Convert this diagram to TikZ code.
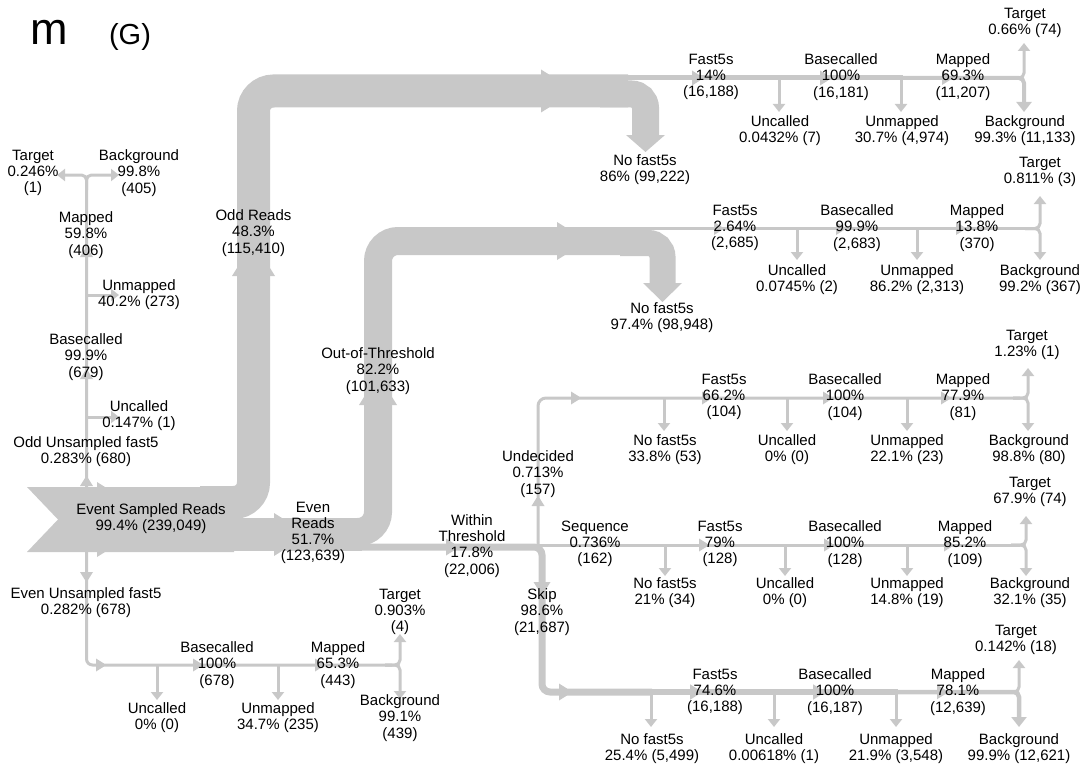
\documentclass[tikz,border=0pt]{standalone}
\usepackage{fontspec}
\setmainfont{Liberation Sans}
\usetikzlibrary{arrows.meta}
\definecolor{flowgray}{RGB}{200,200,200}
% small arrow bump on a flow: x, y, angle, flow width
\newcommand{\flowmark}[4]{\fill[flow,shift={(#1,#2)},rotate=#3] (0,{-#4/2-5}) -- (8,{-#4/2}) -- (8,{#4/2}) -- (0,{#4/2+5}) -- cycle;}

\begin{document}
\begin{tikzpicture}[x=1pt,y=-1pt,
  font=\fontsize{15}{16.2}\selectfont,
  every node/.style={align=center,inner sep=0pt},
  flow/.style={fill=flowgray},
  band/.style={draw=flowgray,line width=#1},
  link/.style={draw=flowgray,line width=3pt},
  endtip/.style={-{Triangle[width=12pt,length=8pt]}},
  bigtip/.style={-{Triangle[width=15pt,length=10pt]}}]
\useasboundingbox (0,0) rectangle (1086,773);

\node[anchor=base,font=\fontsize{45}{45}\selectfont] (panel) at (49,45) {m};
\node[anchor=base,font=\fontsize{29}{29}\selectfont] (graph) at (130,45) {(G)};

% main bands
\fill[flow] (27,487) -- (234,487) -- (234,552) -- (27,552) -- (58,519.5) -- cycle;
\draw[band=33pt,rounded corners=20pt] (200,502.5) -- (253.5,502.5) -- (253.5,91) -- (628,91);
\draw[band=27pt,rounded corners=14pt] (600,94) -- (645.5,94) -- (645.5,136);
\fill[flow] (626,135) -- (665,135) -- (645.5,152) -- cycle;
\draw[band=33pt] (225,534.5) -- (362,534.5);
\draw[band=28pt,rounded corners=20pt] (340,532) -- (378,532) -- (378,241) -- (640,241);
\draw[band=26pt,rounded corners=14pt] (620,243) -- (662.5,243) -- (662.5,284);
\fill[flow] (643,283) -- (682,283) -- (662.5,302) -- cycle;
\draw[band=7pt,rounded corners=8pt] (355,547) -- (542,547) -- (542,692) -- (652,692);

\flowmark{97}{519.5}{0}{65}
\flowmark{253.5}{276}{90}{33}
\flowmark{541}{91}{0}{33}
\flowmark{274}{534.5}{0}{33}
\flowmark{378}{405}{90}{28}
\flowmark{557}{241}{0}{28}
\flowmark{446}{547}{0}{7}
\flowmark{542}{582}{-90}{7}
\flowmark{559}{692}{0}{7}

% odd unsampled
\draw[link,rounded corners=5pt,endtip] (86.5,489) -- (86.5,175) -- (119,175);
\draw[link,rounded corners=5pt,endtip] (86.5,190) -- (86.5,175) -- (57,175);
\draw[link,endtip] (86.5,417) -- (119,417);
\draw[link,endtip] (86.5,295) -- (119,295);
\flowmark{86.5}{486}{90}{3}
\flowmark{86.5}{379}{90}{3}
\flowmark{86.5}{257}{90}{3}

% even unsampled
\draw[link,rounded corners=6pt] (86.5,550) -- (86.5,665) -- (392,665);
\draw[link,rounded corners=5pt,endtip] (385,665) -- (400,665) -- (400,634);
\draw[link,rounded corners=5pt,endtip] (385,665) -- (400,665) -- (400,699);
\draw[link,endtip] (157,665) -- (157,700);
\draw[link,endtip] (278,665) -- (278,700);
\flowmark{86.5}{572}{-90}{3}
\flowmark{96}{665}{0}{3}
\flowmark{193}{665}{0}{3}
\flowmark{315}{665}{0}{3}

% odd reads fast5s
\draw[band=5pt] (620,78) -- (903,78);
\draw[band=4pt,rounded corners=5pt,bigtip] (900,78) -- (1024,78) -- (1024,112);
\draw[link,rounded corners=5pt,endtip] (1008,78) -- (1024,78) -- (1024,43);
\draw[link,endtip] (779,78) -- (779,112);
\draw[link,endtip] (901,78) -- (901,112);
\flowmark{692}{78}{0}{5}
\flowmark{820}{78}{0}{5}
\flowmark{942}{78}{0}{4}

% out-of-threshold fast5s
\draw[link] (630,228.5) -- (1030,228.5);
\draw[link,rounded corners=5pt,endtip] (1025,228.5) -- (1040,228.5) -- (1040,196);
\draw[link,rounded corners=5pt,endtip] (1025,228.5) -- (1040,228.5) -- (1040,260);
\draw[link,endtip] (797,228.5) -- (797,260);
\draw[link,endtip] (917,228.5) -- (917,260);
\flowmark{714}{228.5}{0}{3}
\flowmark{836}{228.5}{0}{3}
\flowmark{956}{228.5}{0}{3}

% undecided
\draw[link,rounded corners=8pt] (538,546) -- (538,398) -- (1020,398);
\draw[link,rounded corners=5pt,endtip] (1013,398) -- (1028,398) -- (1028,368);
\draw[link,rounded corners=5pt,endtip] (1013,398) -- (1028,398) -- (1028,431);
\draw[link,endtip] (664,398) -- (664,431);
\draw[link,endtip] (787,398) -- (787,431);
\draw[link,endtip] (907,398) -- (907,431);
\flowmark{538}{506}{90}{3}
\flowmark{571}{398}{0}{3}
\flowmark{702}{398}{0}{3}
\flowmark{823}{398}{0}{3}
\flowmark{941}{398}{0}{3}

% sequence
\draw[link] (538,545) -- (1020,545);
\draw[link,rounded corners=5pt,endtip] (1011,545) -- (1026,545) -- (1026,516);
\draw[link,rounded corners=5pt,endtip] (1011,545) -- (1026,545) -- (1026,576);
\draw[link,endtip] (665,545) -- (665,576);
\draw[link,endtip] (785,545) -- (785,576);
\draw[link,endtip] (907,545) -- (907,576);
\flowmark{699}{545}{0}{3}
\flowmark{824}{545}{0}{3}
\flowmark{944}{545}{0}{3}

% skip
\draw[band=5.5pt] (650,692) -- (898,692);
\draw[band=4.5pt,rounded corners=5pt,bigtip] (895,692) -- (1019,692) -- (1019,727);
\draw[link,rounded corners=5pt,endtip] (1004,692) -- (1019,692) -- (1019,660);
\draw[link,endtip] (651,692) -- (651,727);
\draw[link,endtip] (774,692) -- (774,727);
\draw[link,endtip] (896,692) -- (896,727);
\flowmark{690}{692}{0}{5.5}
\flowmark{813}{692}{0}{5.5}
\flowmark{937}{692}{0}{4.5}

% labels
\node (oddtgt) at (33,173) {Target\\0.246\%\\(1)};
\node (oddbg) at (139,173) {Background\\99.8\%\\(405)};
\node (oddmap) at (86,235) {Mapped\\59.8\%\\(406)};
\node (oddunm) at (139,295) {Unmapped\\40.2\% (273)};
\node (oddbc) at (86,357) {Basecalled\\99.9\%\\(679)};
\node (oddunc) at (139,416) {Uncalled\\0.147\% (1)};
\node (oddun) at (86,452) {Odd Unsampled fast5\\0.283\% (680)};

\node (evenun) at (86,603) {Even Unsampled fast5\\0.282\% (678)};
\node (evbc) at (217,665) {Basecalled\\100\%\\(678)};
\node (evunc) at (157,718) {Uncalled\\0\% (0)};
\node (evunm) at (278,718) {Unmapped\\34.7\% (235)};
\node (evmap) at (338,665) {Mapped\\65.3\%\\(443)};
\node (evtgt) at (400,612) {Target\\0.903\%\\(4)};
\node (evbg) at (400,718) {Background\\99.1\%\\(439)};

\node (esr) at (151,518.5) {Event Sampled Reads\\99.4\% (239,049)};
\node (evenr) at (313,533) {Even\\Reads\\51.7\%\\(123,639)};
\node (oddr) at (253.5,233) {Odd Reads\\48.3\%\\(115,410)};
\node (oot) at (378,371) {Out-of-Threshold\\82.2\%\\(101,633)};
\node (within) at (472,546) {Within\\Threshold\\17.8\%\\(22,006)};
\node (nof1) at (645,170) {No fast5s\\86\% (99,222)};
\node (nof2) at (662,318) {No fast5s\\97.4\% (98,948)};
\node (undec) at (538,474) {Undecided\\0.713\%\\(157)};
\node (seq) at (595,544) {Sequence\\0.736\%\\(162)};
\node (skip) at (542,612) {Skip\\98.6\%\\(21,687)};

\node (t1f) at (711,77) {Fast5s\\14\%\\(16,188)};
\node (t1unc) at (780,130.5) {Uncalled\\0.0432\% (7)};
\node (t1bc) at (841,77) {Basecalled\\100\%\\(16,181)};
\node (t1unm) at (902,130.5) {Unmapped\\30.7\% (4,974)};
\node (t1map) at (963,77) {Mapped\\69.3\%\\(11,207)};
\node (t1tgt) at (1025,22.5) {Target\\0.66\% (74)};
\node (t1bg) at (1025,130.5) {Background\\99.3\% (11,133)};

\node (t2f) at (735,228) {Fast5s\\2.64\%\\(2,685)};
\node (t2unc) at (797,280) {Uncalled\\0.0745\% (2)};
\node (t2bc) at (857,228) {Basecalled\\99.9\%\\(2,683)};
\node (t2unm) at (917,280) {Unmapped\\86.2\% (2,313)};
\node (t2map) at (977,228) {Mapped\\13.8\%\\(370)};
\node (t2tgt) at (1040,172) {Target\\0.811\% (3)};
\node (t2bg) at (1040,280) {Background\\99.2\% (367)};

\node (unof) at (665,450) {No fast5s\\33.8\% (53)};
\node (uf) at (724,397) {Fast5s\\66.2\%\\(104)};
\node (uunc) at (787,450) {Uncalled\\0\% (0)};
\node (ubc) at (845,397) {Basecalled\\100\%\\(104)};
\node (uunm) at (907,450) {Unmapped\\22.1\% (23)};
\node (umap) at (963,397) {Mapped\\77.9\%\\(81)};
\node (utgt) at (1027,345) {Target\\1.23\% (1)};
\node (ubg) at (1029,450) {Background\\98.8\% (80)};

\node (snof) at (665,593) {No fast5s\\21\% (34)};
\node (sf) at (720,544) {Fast5s\\79\%\\(128)};
\node (sunc) at (785,593) {Uncalled\\0\% (0)};
\node (sbc) at (845,544) {Basecalled\\100\%\\(128)};
\node (sunm) at (907,593) {Unmapped\\14.8\% (19)};
\node (smap) at (965,544) {Mapped\\85.2\%\\(109)};
\node (stgt) at (1030,492) {Target\\67.9\% (74)};
\node (sbg) at (1030,593) {Background\\32.1\% (35)};

\node (bnof) at (652,749) {No fast5s\\25.4\% (5,499)};
\node (bf) at (715,692) {Fast5s\\74.6\%\\(16,188)};
\node (bunc) at (774,749) {Uncalled\\0.00618\% (1)};
\node (bbc) at (835,692) {Basecalled\\100\%\\(16,187)};
\node (bunm) at (896,749) {Unmapped\\21.9\% (3,548)};
\node (bmap) at (958,692) {Mapped\\78.1\%\\(12,639)};
\node (btgt) at (1016,640) {Target\\0.142\% (18)};
\node (bbg) at (1019,749) {Background\\99.9\% (12,621)};

\end{tikzpicture}
\end{document}
